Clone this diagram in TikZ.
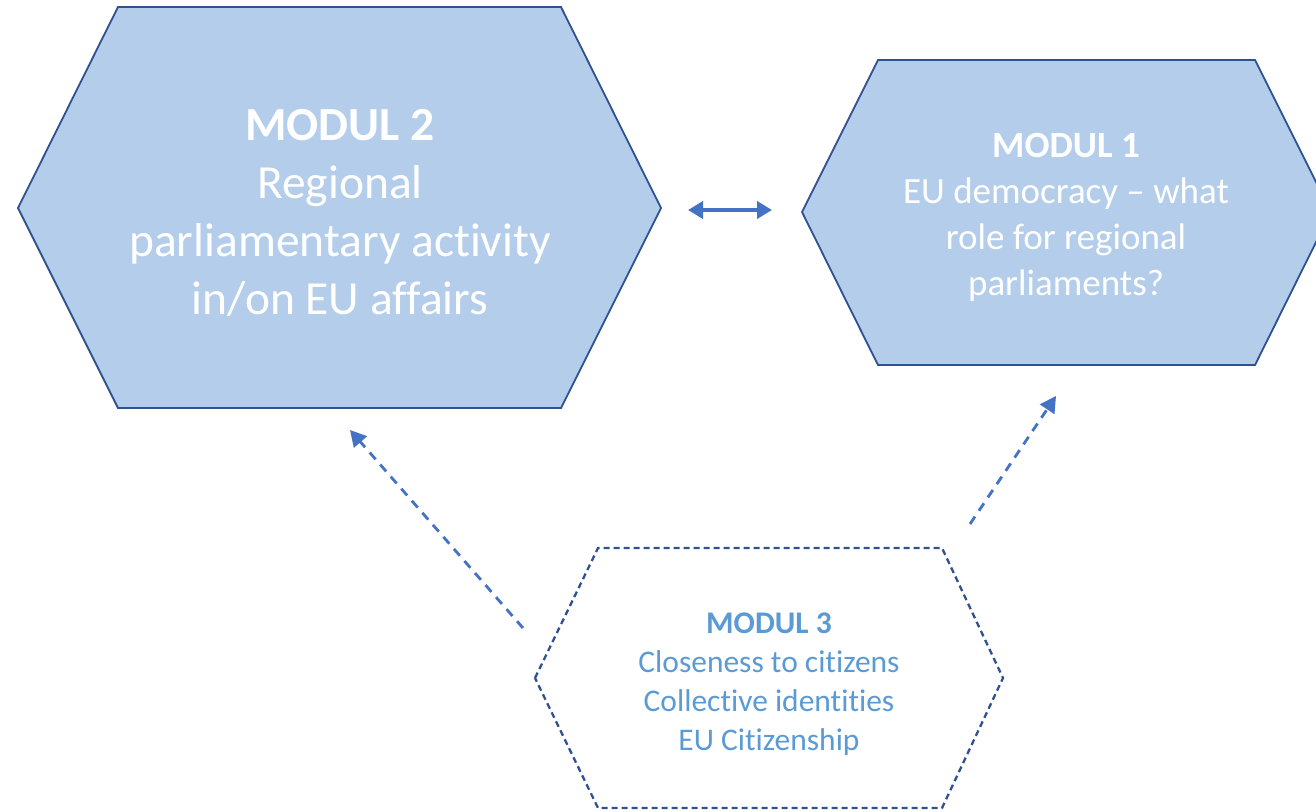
\documentclass[tikz,border=0pt]{standalone}
\usepackage{fontspec}
\setmainfont{Carlito}[RawFeature={-liga;-calt;-dlig}]
\usetikzlibrary{arrows.meta}
\definecolor{hexfill}{HTML}{B4CDEB}
\definecolor{hexline}{HTML}{2F528F}
\definecolor{arrowblue}{HTML}{4472C4}
\definecolor{softblue}{HTML}{5B9BD5}
\begin{document}
\begin{tikzpicture}[x=1pt,y=-1pt,
  solidhex/.style={draw=hexline,fill=hexfill,line width=1.8pt,line join=miter},
  dashhex/.style={draw=hexline,fill=white,line width=2.3pt,dash pattern=on 6pt off 4pt},
  bigtext/.style={align=center,text=white,font=\fontsize{47.5}{58}\selectfont},
  midtext/.style={align=center,text=white,font=\fontsize{37}{46}\selectfont},
  smalltext/.style={align=center,text=softblue,font=\fontsize{31.5}{39}\selectfont},
  linkarrow/.style={draw=arrowblue,line width=2.8pt,dash pattern=on 9pt off 7pt,
    -{Triangle[width=17pt,length=16pt]}},
  twoway/.style={draw=arrowblue,line width=4.4pt,
    {Triangle[width=17pt,length=15pt]}-{Triangle[width=17pt,length=15pt]}}
]
\useasboundingbox (0,0) rectangle (1316,811);
\begin{scope}
\clip (0,0) rectangle (1316,811);
% module hexagons
\draw[solidhex] (18,208) -- (118,7) -- (561,7) -- (661,208) -- (561,408) -- (118,408) -- cycle;
\draw[solidhex] (802,212) -- (878,60) -- (1255,60) -- (1331,212) -- (1255,365) -- (878,365) -- cycle;
\draw[dashhex] (535,678) -- (598,548) -- (942,548) -- (1003,678) -- (942,808) -- (598,808) -- cycle;
\end{scope}
% module labels
\node[bigtext] (m2) at (340,213) {\textbf{MODUL 2}\\Regional\\parliamentary activity\\in/on EU affairs};
\node[midtext] (m1) at (1066,217) {\textbf{MODUL 1}\\EU democracy -- what\\role for regional\\parliaments?};
\node[smalltext] (m3) at (769,684) {\textbf{MODUL 3}\\Closeness to citizens\\Collective identities\\EU Citizenship};
% connector ends
\coordinate (twoL) at (688,210);
\coordinate (twoR) at (772,210);
\coordinate (leftFrom) at (523,628);
\coordinate (leftTo) at (350,430);
\coordinate (rightFrom) at (970,524);
\coordinate (rightTo) at (1056,396);
% connectors
\draw[twoway] (twoL) -- (twoR);
\draw[linkarrow] (leftFrom) -- (leftTo);
\draw[linkarrow] (rightFrom) -- (rightTo);
\end{tikzpicture}
\end{document}
